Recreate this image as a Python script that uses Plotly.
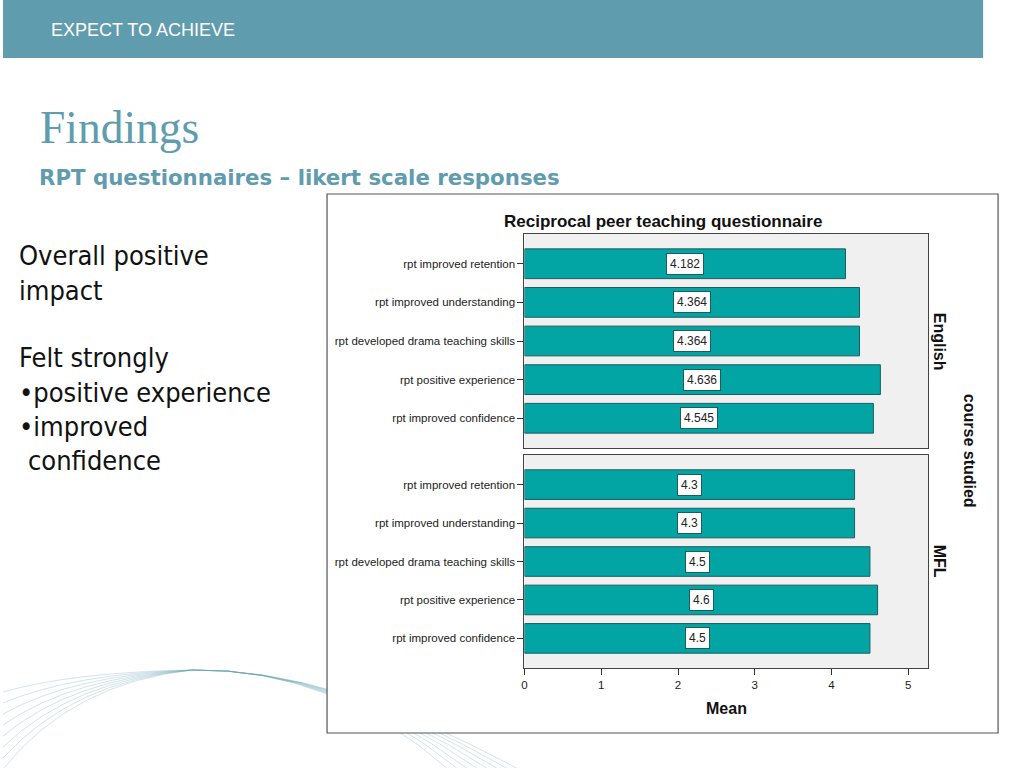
import plotly.graph_objects as go

# ---------------- data ----------------
categories = [
    "rpt improved retention",
    "rpt improved understanding",
    "rpt developed drama teaching skills",
    "rpt positive experience",
    "rpt improved confidence",
]
english_means = [4.182, 4.364, 4.364, 4.636, 4.545]
english_labels = ["4.182", "4.364", "4.364", "4.636", "4.545"]
mfl_means = [4.3, 4.3, 4.5, 4.6, 4.5]
mfl_labels = ["4.3", "4.3", "4.5", "4.6", "4.5"]
x_ticks = [0, 1, 2, 3, 4, 5]
facet_names = ["English", "MFL"]

W, H = 1024, 768


def px(x):
    return x / W


def py(y):
    return 1 - y / H


BAR = "#02a4a4"
BAR_LINE = "#1f5c5c"
TEAL = "#5f9cae"
AX = "Liberation Sans, Arial, sans-serif"

fig = go.Figure()

for vals, xa, ya in [(english_means, "x", "y"), (mfl_means, "x2", "y2")]:
    fig.add_trace(go.Bar(
        x=vals, y=categories, orientation="h", xaxis=xa, yaxis=ya,
        width=0.77, marker=dict(color=BAR, line=dict(color=BAR_LINE, width=1)),
        hoverinfo="x+y", showlegend=False,
    ))

annotations = []
for vals, labs, xr, yr in [(english_means, english_labels, "x", "y"),
                           (mfl_means, mfl_labels, "x2", "y2")]:
    for c, v, t in zip(categories, vals, labs):
        annotations.append(dict(
            x=v / 2, y=c, xref=xr, yref=yr, text=t, showarrow=False,
            font=dict(family=AX, size=12, color="#222"),
            bgcolor="white", bordercolor=BAR_LINE, borderwidth=1, borderpad=3,
        ))

# chart texts
annotations += [
    dict(x=px(662), y=py(221), xref="paper", yref="paper",
         text="<b>Reciprocal peer teaching questionnaire</b>", showarrow=False,
         font=dict(family=AX, size=17, color="#111"), xanchor="center", yanchor="middle"),
    dict(x=px(726), y=py(708), xref="paper", yref="paper", text="<b>Mean</b>",
         showarrow=False, font=dict(family=AX, size=16, color="#111"),
         xanchor="center", yanchor="middle"),
    dict(x=px(940), y=py(342), xref="paper", yref="paper", text="<b>" + facet_names[0] + "</b>",
         showarrow=False, textangle=90, font=dict(family=AX, size=16, color="#111"),
         xanchor="center", yanchor="middle"),
    dict(x=px(940), y=py(561), xref="paper", yref="paper", text="<b>" + facet_names[1] + "</b>",
         showarrow=False, textangle=90, font=dict(family=AX, size=16, color="#111"),
         xanchor="center", yanchor="middle"),
    dict(x=px(970), y=py(451), xref="paper", yref="paper", text="<b>course studied</b>",
         showarrow=False, textangle=90, font=dict(family=AX, size=16, color="#111"),
         xanchor="center", yanchor="middle"),
]

# slide texts
annotations += [
    dict(x=px(46), y=py(30), xref="paper", yref="paper", text="EXPECT TO ACHIEVE",
         showarrow=False, xanchor="left", yanchor="middle",
         font=dict(family="Liberation Sans, Arial, sans-serif", size=18, color="white")),
    dict(x=px(35), y=py(128), xref="paper", yref="paper", text="Findings",
         showarrow=False, xanchor="left", yanchor="middle",
         font=dict(family="Liberation Serif, Times New Roman, serif", size=45.5, color=TEAL)),
    dict(x=px(34), y=py(177), xref="paper", yref="paper",
         text="<b>RPT questionnaires – likert scale responses</b>",
         showarrow=False, xanchor="left", yanchor="middle",
         font=dict(family="DejaVu Sans, Verdana, sans-serif", size=21.3, color=TEAL)),
]
left_lines = [
    ("Overall positive", 14, 256),
    ("impact", 14, 290),
    ("Felt strongly", 14, 358),
    ("•positive experience", 14, 392),
    ("•improved", 14, 426),
    ("confidence", 23, 460),
]
for t, lx, ly in left_lines:
    annotations.append(dict(
        x=px(lx), y=py(ly), xref="paper", yref="paper", text=t, showarrow=False,
        xanchor="left", yanchor="middle",
        font=dict(family="DejaVu Sans Condensed, Noto Sans, sans-serif", size=27, color="#111"),
    ))

shapes = []
# decorative swoosh lines
for i in range(8):
    shapes.append(dict(
        type="path", xref="paper", yref="paper", layer="below",
        path=(f"M {px(0)},{py(692 + i * 11)} Q {px(70)},{py(672 + i * 1.5)} {px(190)},{py(670)} "
              f"Q {px(330)},{py(668)} {px(445 + i * 10)},{py(768)}"),
        line=dict(color="rgba(95,157,174,0.28)", width=1),
    ))
# header band
shapes.append(dict(type="rect", xref="paper", yref="paper", layer="below",
                   x0=px(0), x1=px(983), y0=py(58), y1=py(0),
                   fillcolor=TEAL, line=dict(width=0)))
# chart frame
shapes.append(dict(type="rect", xref="paper", yref="paper", layer="below",
                   x0=px(325), x1=px(998), y0=py(733), y1=py(194),
                   fillcolor="white", line=dict(color="#555", width=1.2)))
# panel backgrounds
for y0, y1 in [(448, 234), (668, 455)]:
    shapes.append(dict(type="rect", xref="paper", yref="paper", layer="below",
                       x0=px(523), x1=px(928), y0=py(y0), y1=py(y1),
                       fillcolor="#f0f0f0", line=dict(width=0)))

xdom = [px(523), px(928)]
yaxis_common = dict(
    type="category", categoryorder="array", categoryarray=categories,
    range=[4.77, -0.77], ticks="outside", ticklen=6, tickcolor="#333",
    tickfont=dict(family=AX, size=11.5, color="#222"), showgrid=False,
    showline=True, mirror=True, linecolor="#444", linewidth=1.2, zeroline=False,
    ticklabelstandoff=0,
)
xaxis_common = dict(
    range=[0, 5.26], tickvals=x_ticks, showgrid=False, zeroline=False,
    showline=True, mirror=True, linecolor="#444", linewidth=1.2,
)

fig.update_layout(
    width=W, height=H, margin=dict(l=0, r=0, t=0, b=0),
    paper_bgcolor="white", plot_bgcolor="rgba(0,0,0,0)",
    xaxis=dict(domain=xdom, anchor="y", showticklabels=False, ticks="", **xaxis_common),
    yaxis=dict(domain=[py(448), py(234)], anchor="x", **yaxis_common),
    xaxis2=dict(domain=xdom, anchor="y2", ticks="outside", ticklen=6, tickcolor="#333",
                tickfont=dict(family=AX, size=11.5, color="#222"), **xaxis_common),
    yaxis2=dict(domain=[py(668), py(455)], anchor="x2", **yaxis_common),
    bargap=0.2, shapes=shapes, annotations=annotations,
)

fig.write_html(
    "out.html",
    config={"displayModeBar": False},
    post_script="document.body.style.margin='0';document.body.style.overflow='hidden';",
)
